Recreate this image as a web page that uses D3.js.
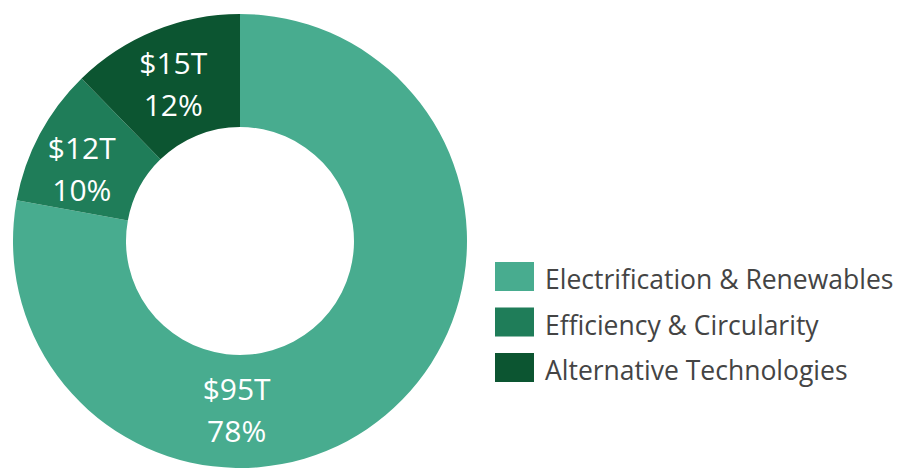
<!DOCTYPE html>
<html>
<head>
<meta charset="utf-8">
<script src="https://cdn.jsdelivr.net/npm/d3@7"></script>
<style>
  body { margin: 0; background: #fff; }
  svg { display: block; font-family: "Open Sans", sans-serif; }
</style>
</head>
<body>
<div id="chart"></div>
<script>
// data
var categories = ["Electrification & Renewables", "Efficiency & Circularity", "Alternative Technologies"];
var values = [95, 12, 15];            // trillions USD
var valueLabels = ["$95T", "$12T", "$15T"];
var pctLabels = ["78%", "10%", "12%"];
var colors = ["#48ac8f", "#1f7d59", "#0c5531"];

var width = 910, height = 469;
var cx = 240, cy = 241,
    outerR = 227, innerR = 114;

var svg = d3.select("#chart")
    .append("svg")
    .attr("width", width)
    .attr("height", height);

var g = svg.append("g")
    .attr("transform", "translate(" + cx + "," + cy + ")");

var data = categories.map(function (c, i) {
    return { name: c, value: values[i], vl: valueLabels[i], pl: pctLabels[i], color: colors[i] };
});

// pie generator, clockwise from 12 o'clock in data order
var pie = d3.pie()
    .sort(null)
    .value(function (d) { return d.value; });

var arc = d3.arc()
    .outerRadius(outerR)
    .innerRadius(innerR);

var arcs = g.selectAll(".arc")
    .data(pie(data))
    .enter().append("g")
    .attr("class", "arc");

arcs.append("path")
    .attr("d", arc)
    .style("fill", function (d) { return d.data.color; });

// label position: big slice label sits at the bottom, the small ones near mid-angle
function labelPos(d, i) {
    var r = 171, a;
    if (i === 0) {
        a = Math.PI + 0.02;
        r = 169;
    } else if (i === 1) {
        a = (d.startAngle + d.endAngle) / 2 - 0.06;
        r = 174;
    } else {
        a = (d.startAngle + d.endAngle) / 2 - 0.015;
    }
    return [r * Math.sin(a), -r * Math.cos(a)];
}

var labels = arcs.append("text")
    .attr("transform", function (d, i) {
        return "translate(" + labelPos(d, i) + ")";
    })
    .attr("text-anchor", "middle")
    .style("fill", "#fff")
    .style("font-size", "30px");

labels.append("tspan")
    .attr("x", 0)
    .attr("y", -10)
    .text(function (d) { return d.data.vl; });

labels.append("tspan")
    .attr("x", 0)
    .attr("y", 32)
    .text(function (d) { return d.data.pl; });

// legend
var legend = svg.append("g")
    .attr("transform", "translate(495,262)");

var item = legend.selectAll(".item")
    .data(data)
    .enter().append("g")
    .attr("class", "item")
    .attr("transform", function (d, i) { return "translate(0," + i * 45.5 + ")"; });

item.append("rect")
    .attr("width", 39)
    .attr("height", 29)
    .style("fill", function (d) { return d.color; });

item.append("text")
    .attr("x", 50)
    .attr("y", 27)
    .style("fill", "#444")
    .style("font-size", "26.5px")
    .text(function (d) { return d.name; });
</script>
</body>
</html>
